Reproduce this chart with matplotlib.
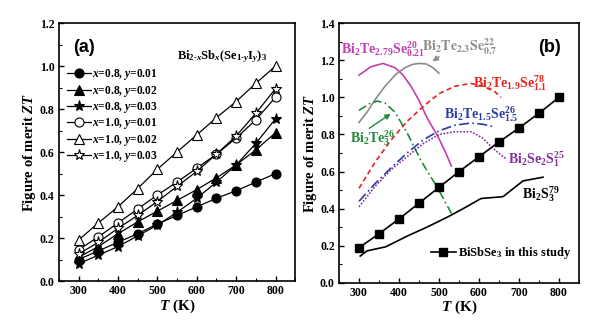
import matplotlib
matplotlib.use("Agg")
import matplotlib.pyplot as plt
from matplotlib.ticker import MultipleLocator, FormatStrFormatter

plt.rcParams.update({
    "font.family": "Liberation Serif",
    "font.weight": "bold",
    "axes.labelweight": "bold",
    "mathtext.fontset": "custom",
    "mathtext.rm": "Liberation Serif:bold",
    "mathtext.it": "Liberation Serif:italic:bold",
    "mathtext.bf": "Liberation Serif:bold",
    "axes.linewidth": 1.2,
})

# ---- panel (a) data: Bi(2-x)Sb(x)(Se(1-y)I(y))3 ----
T_a = [300, 350, 400, 450, 500, 550, 600, 650, 700, 750, 800]
zt_x08_y001 = [0.10, 0.14, 0.18, 0.22, 0.265, 0.305, 0.345, 0.385, 0.42, 0.46, 0.50]
zt_x08_y002 = [0.11, 0.16, 0.22, 0.275, 0.325, 0.375, 0.425, 0.48, 0.54, 0.61, 0.69]
zt_x08_y003 = [0.08, 0.12, 0.16, 0.21, 0.26, 0.32, 0.385, 0.46, 0.54, 0.64, 0.755]
zt_x10_y001 = [0.145, 0.205, 0.27, 0.335, 0.40, 0.46, 0.525, 0.59, 0.665, 0.75, 0.855]
zt_x10_y002 = [0.19, 0.27, 0.345, 0.43, 0.52, 0.60, 0.68, 0.76, 0.835, 0.92, 1.00]
zt_x10_y003 = [0.125, 0.18, 0.245, 0.305, 0.37, 0.44, 0.51, 0.59, 0.675, 0.78, 0.895]
labels_a = [r"$x$=0.8, $y$=0.01", r"$x$=0.8, $y$=0.02", r"$x$=0.8, $y$=0.03",
            r"$x$=1.0, $y$=0.01", r"$x$=1.0, $y$=0.02", r"$x$=1.0, $y$=0.03"]

# ---- panel (b) data: comparison with literature ----
T_this = T_a
zt_this = [0.19, 0.265, 0.345, 0.43, 0.515, 0.60, 0.68, 0.76, 0.835, 0.915, 1.00]

T_te279 = [300, 330, 360, 390, 410, 430, 451, 470, 497, 515, 531]
zt_te279 = [1.12, 1.165, 1.183, 1.16, 1.12, 1.06, 0.98, 0.89, 0.79, 0.71, 0.63]

T_te23 = [300, 320, 341, 365, 392, 415, 434, 450, 468, 485, 500]
zt_te23 = [0.865, 0.92, 0.99, 1.06, 1.124, 1.16, 1.178, 1.183, 1.18, 1.16, 1.13]

T_te3 = [300, 325, 345, 365, 390, 420, 456, 497, 531]
zt_te3 = [0.93, 0.965, 0.98, 0.97, 0.92, 0.81, 0.655, 0.51, 0.375]

T_te19 = [300, 340, 380, 420, 460, 500, 540, 580, 610, 640, 655]
zt_te19 = [0.51, 0.65, 0.77, 0.87, 0.95, 1.02, 1.06, 1.075, 1.06, 1.03, 1.00]

T_te15 = [300, 340, 380, 420, 460, 500, 540, 580, 610, 640]
zt_te15 = [0.44, 0.535, 0.62, 0.70, 0.77, 0.82, 0.85, 0.862, 0.855, 0.84]

T_se2s = [300, 340, 380, 420, 460, 500, 540, 580, 610, 635, 655, 670]
zt_se2s = [0.41, 0.52, 0.61, 0.68, 0.75, 0.80, 0.815, 0.815, 0.78, 0.725, 0.69, 0.665]

T_bi2s3 = [303, 320, 367, 421, 472, 523, 560, 605, 660, 710, 760]
zt_bi2s3 = [0.145, 0.173, 0.195, 0.253, 0.303, 0.357, 0.40, 0.455, 0.465, 0.55, 0.57]

fig = plt.figure(figsize=(6.0, 3.26), dpi=100)
ax1 = fig.add_axes([0.098, 0.138, 0.394, 0.791])
ax2 = fig.add_axes([0.565, 0.132, 0.400, 0.797])


def style_axis(ax, ymax):
    ax.set_xlim(250, 850)
    ax.set_ylim(0, ymax)
    ax.xaxis.set_major_locator(MultipleLocator(100))
    ax.xaxis.set_minor_locator(MultipleLocator(50))
    ax.yaxis.set_major_locator(MultipleLocator(0.2))
    ax.yaxis.set_minor_locator(MultipleLocator(0.1))
    ax.yaxis.set_major_formatter(FormatStrFormatter("%.1f"))
    ax.tick_params(which="both", direction="in", labelsize=8.5, pad=3)
    ax.tick_params(which="major", length=3.5, width=1)
    ax.tick_params(which="minor", length=2, width=0.8)
    for lab in ax.get_xticklabels() + ax.get_yticklabels():
        lab.set_fontweight("bold")
    ax.set_xlabel(r"$T$ (K)", fontsize=11, labelpad=0)
    ax.set_ylabel(r"Figure of merit $ZT$", fontsize=10.5, labelpad=1)


# ---- panel (a) ----
series_a = [zt_x08_y001, zt_x08_y002, zt_x08_y003, zt_x10_y001, zt_x10_y002, zt_x10_y003]
markers = ["o", "^", "*", "o", "^", "*"]
fills = ["k", "k", "k", "w", "w", "w"]
sizes = [6.5, 7, 8, 6.5, 7, 8]
for vals, m, fc, ms, lab in zip(series_a, markers, fills, sizes, labels_a):
    ax1.plot(T_a, vals, color="k", lw=0.9, marker=m, ms=ms, mfc=fc, mec="k",
             mew=0.8, label=lab)
style_axis(ax1, 1.2)
ax1.text(0.06, 0.94, "(a)", transform=ax1.transAxes, fontsize=13,
         fontweight="bold", family="Liberation Sans", va="top")
ax1.text(0.50, 0.86, r"Bi$_{2\text{-}x}$Sb$_{x}$(Se$_{1\text{-}y}$I$_{y}$)$_{3}$",
         transform=ax1.transAxes, fontsize=9)
ax1.legend(loc="upper left", bbox_to_anchor=(0.0, 0.86), frameon=False,
           fontsize=8.3, handlelength=2.1, handletextpad=0.1,
           labelspacing=0.12, borderaxespad=0.3)

# ---- panel (b) ----
c_mag, c_gray, c_red = "#c23fae", "#8c8c8c", "#e8231c"
c_blue, c_green, c_purp = "#2b3aa8", "#1f8a3a", "#84309a"
ax2.plot(T_te279, zt_te279, color=c_mag, lw=1.2)
ax2.plot(T_te23, zt_te23, color=c_gray, lw=1.2)
ax2.plot(T_te3, zt_te3, color=c_green, lw=1.2, ls=(0, (5, 2, 1, 2)))
ax2.plot(T_te19, zt_te19, color=c_red, lw=1.2, ls=(0, (3, 2)))
ax2.plot(T_te15, zt_te15, color=c_blue, lw=1.2, ls=(0, (6, 2, 1, 2)))
ax2.plot(T_se2s, zt_se2s, color=c_purp, lw=1.2, ls=(0, (1, 1)))
ax2.plot(T_bi2s3, zt_bi2s3, color="k", lw=1.2)
ax2.plot(T_this, zt_this, color="k", lw=1.2, marker="s", ms=6,
         label=r"BiSbSe$_3$ in this study")
style_axis(ax2, 1.4)
ax2.text(0.83, 0.94, "(b)", transform=ax2.transAxes, fontsize=13,
         fontweight="bold", family="Liberation Sans", va="top")

fs = 10
ax2.text(255, 1.235, r"Bi$_2$Te$_{2.79}$Se$_{0.21}^{20}$", color=c_mag, fontsize=fs)
ax2.text(458, 1.25, r"$\mathrm{Bi_2Te_{2.3}Se_{0.7}^{22}}$", color=c_gray,
         fontsize=fs, math_fontfamily="stix")
ax2.annotate("", xy=(478, 1.185), xytext=(506, 1.228),
             arrowprops=dict(arrowstyle="-|>", color=c_gray, lw=1, mutation_scale=8))
ax2.text(584, 1.055, r"Bi$_2$Te$_{1.9}$Se$_{1.1}^{78}$", color=c_red, fontsize=fs)
ax2.text(513, 0.885, r"Bi$_2$Te$_{1.5}$Se$_{1.5}^{26}$", color=c_blue, fontsize=fs)
ax2.text(278, 0.755, r"Bi$_2$Te$_{3}^{26}$", color=c_green, fontsize=fs)
ax2.annotate("", xy=(385, 0.92), xytext=(320, 0.825),
             arrowprops=dict(arrowstyle="-|>", color=c_green, lw=1, mutation_scale=8))
ax2.text(673, 0.645, r"Bi$_2$Se$_2$S$_{1}^{25}$", color=c_purp, fontsize=fs)
ax2.text(708, 0.455, r"Bi$_2$S$_{3}^{79}$", color="k", fontsize=fs)
ax2.legend(loc="lower right", frameon=False, fontsize=9, handlelength=2.0,
           handletextpad=0.2, borderaxespad=0.2, bbox_to_anchor=(1.0, 0.055))

fig.savefig("out.png", dpi=100)
